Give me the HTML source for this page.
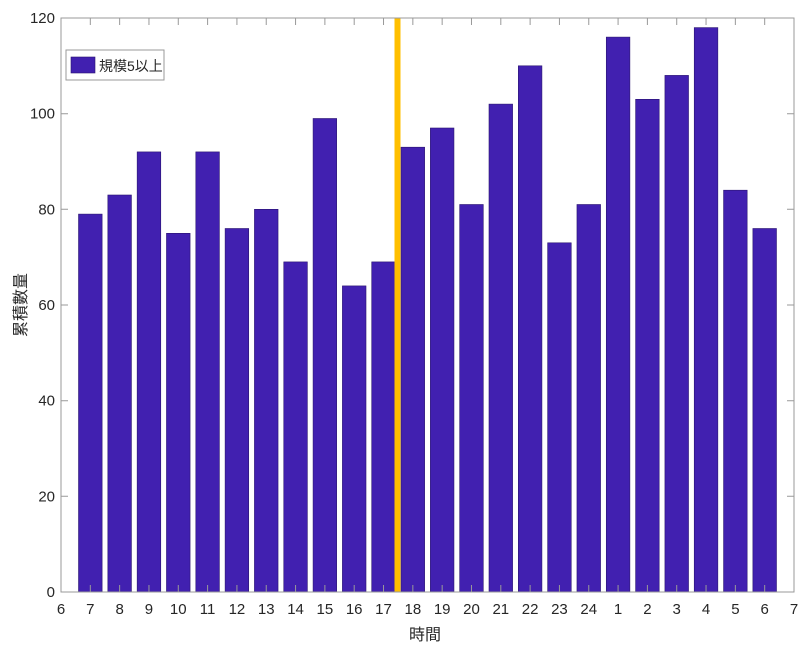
<!DOCTYPE html>
<html><head><meta charset="utf-8"><style>
body{margin:0;background:#fff;}
text{font-family:"Liberation Sans","Noto Sans CJK TC",sans-serif;fill:#262626;}
</style></head><body>
<svg width="800" height="648" xmlns="http://www.w3.org/2000/svg" style="display:block">
<rect width="800" height="648" fill="#fff"/>
<g fill="#4120b0" stroke="#2a1470" stroke-width="0.6">
<rect x="78.52" y="214.1" width="23.6" height="377.9"/>
<rect x="107.84" y="195.0" width="23.6" height="397.0"/>
<rect x="137.16" y="151.9" width="23.6" height="440.1"/>
<rect x="166.48" y="233.3" width="23.6" height="358.7"/>
<rect x="195.8" y="151.9" width="23.6" height="440.1"/>
<rect x="225.12" y="228.5" width="23.6" height="363.5"/>
<rect x="254.44" y="209.3" width="23.6" height="382.7"/>
<rect x="283.76" y="261.9" width="23.6" height="330.1"/>
<rect x="313.08" y="118.5" width="23.6" height="473.5"/>
<rect x="342.4" y="285.9" width="23.6" height="306.1"/>
<rect x="371.72" y="261.9" width="23.6" height="330.1"/>
<rect x="401.04" y="147.2" width="23.6" height="444.8"/>
<rect x="430.36" y="128.0" width="23.6" height="464.0"/>
<rect x="459.68" y="204.5" width="23.6" height="387.5"/>
<rect x="489" y="104.1" width="23.6" height="487.9"/>
<rect x="518.32" y="65.8" width="23.6" height="526.2"/>
<rect x="547.64" y="242.8" width="23.6" height="349.2"/>
<rect x="576.96" y="204.5" width="23.6" height="387.5"/>
<rect x="606.28" y="37.1" width="23.6" height="554.9"/>
<rect x="635.6" y="99.3" width="23.6" height="492.7"/>
<rect x="664.92" y="75.4" width="23.6" height="516.6"/>
<rect x="694.24" y="27.6" width="23.6" height="564.4"/>
<rect x="723.56" y="190.2" width="23.6" height="401.8"/>
<rect x="752.88" y="228.5" width="23.6" height="363.5"/>
</g>
<rect x="394.5" y="18" width="6" height="574" fill="#ffbf00"/>
<rect x="61" y="18" width="733" height="574" fill="none" stroke="#999" stroke-width="1"/>
<g stroke="#999">
<path d="M61 592v-7M90.32 592v-7M119.64 592v-7M148.96 592v-7M178.28 592v-7M207.6 592v-7M236.92 592v-7M266.24 592v-7M295.56 592v-7M324.88 592v-7M354.2 592v-7M383.52 592v-7M412.84 592v-7M442.16 592v-7M471.48 592v-7M500.8 592v-7M530.12 592v-7M559.44 592v-7M588.76 592v-7M618.08 592v-7M647.4 592v-7M676.72 592v-7M706.04 592v-7M735.36 592v-7M764.68 592v-7M794 592v-7"/>
<path d="M61 18v7M90.32 18v7M119.64 18v7M148.96 18v7M178.28 18v7M207.6 18v7M236.92 18v7M266.24 18v7M295.56 18v7M324.88 18v7M354.2 18v7M383.52 18v7M412.84 18v7M442.16 18v7M471.48 18v7M500.8 18v7M530.12 18v7M559.44 18v7M588.76 18v7M618.08 18v7M647.4 18v7M676.72 18v7M706.04 18v7M735.36 18v7M764.68 18v7M794 18v7"/>
<path d="M61 496.3h7M61 400.7h7M61 305h7M61 209.3h7M61 113.7h7M794 496.3h-7M794 400.7h-7M794 305h-7M794 209.3h-7M794 113.7h-7"/>
</g>
<g font-size="15" text-anchor="middle">
<text x="61" y="614">6</text><text x="90.32" y="614">7</text><text x="119.64" y="614">8</text><text x="148.96" y="614">9</text><text x="178.28" y="614">10</text><text x="207.6" y="614">11</text><text x="236.92" y="614">12</text><text x="266.24" y="614">13</text><text x="295.56" y="614">14</text><text x="324.88" y="614">15</text><text x="354.2" y="614">16</text><text x="383.52" y="614">17</text><text x="412.84" y="614">18</text><text x="442.16" y="614">19</text><text x="471.48" y="614">20</text><text x="500.8" y="614">21</text><text x="530.12" y="614">22</text><text x="559.44" y="614">23</text><text x="588.76" y="614">24</text><text x="618.08" y="614">1</text><text x="647.4" y="614">2</text><text x="676.72" y="614">3</text><text x="706.04" y="614">4</text><text x="735.36" y="614">5</text><text x="764.68" y="614">6</text><text x="794" y="614">7</text>
</g>
<g font-size="15" text-anchor="end">
<text x="55" y="597">0</text><text x="55" y="501.3">20</text><text x="55" y="405.7">40</text><text x="55" y="310">60</text><text x="55" y="214.3">80</text><text x="55" y="118.7">100</text><text x="55" y="23">120</text>
</g>
<text x="425" y="640" font-size="16" text-anchor="middle">時間</text>
<text transform="translate(26,305) rotate(-90)" font-size="16" text-anchor="middle">累積數量</text>
<rect x="66" y="50" width="98" height="30" fill="#fff" stroke="#999"/>
<rect x="71" y="57" width="24" height="16" fill="#4120b0" stroke="#2a1470" stroke-width="0.6"/>
<text x="99" y="71" font-size="14">規模5以上</text>
</svg>
</body></html>
